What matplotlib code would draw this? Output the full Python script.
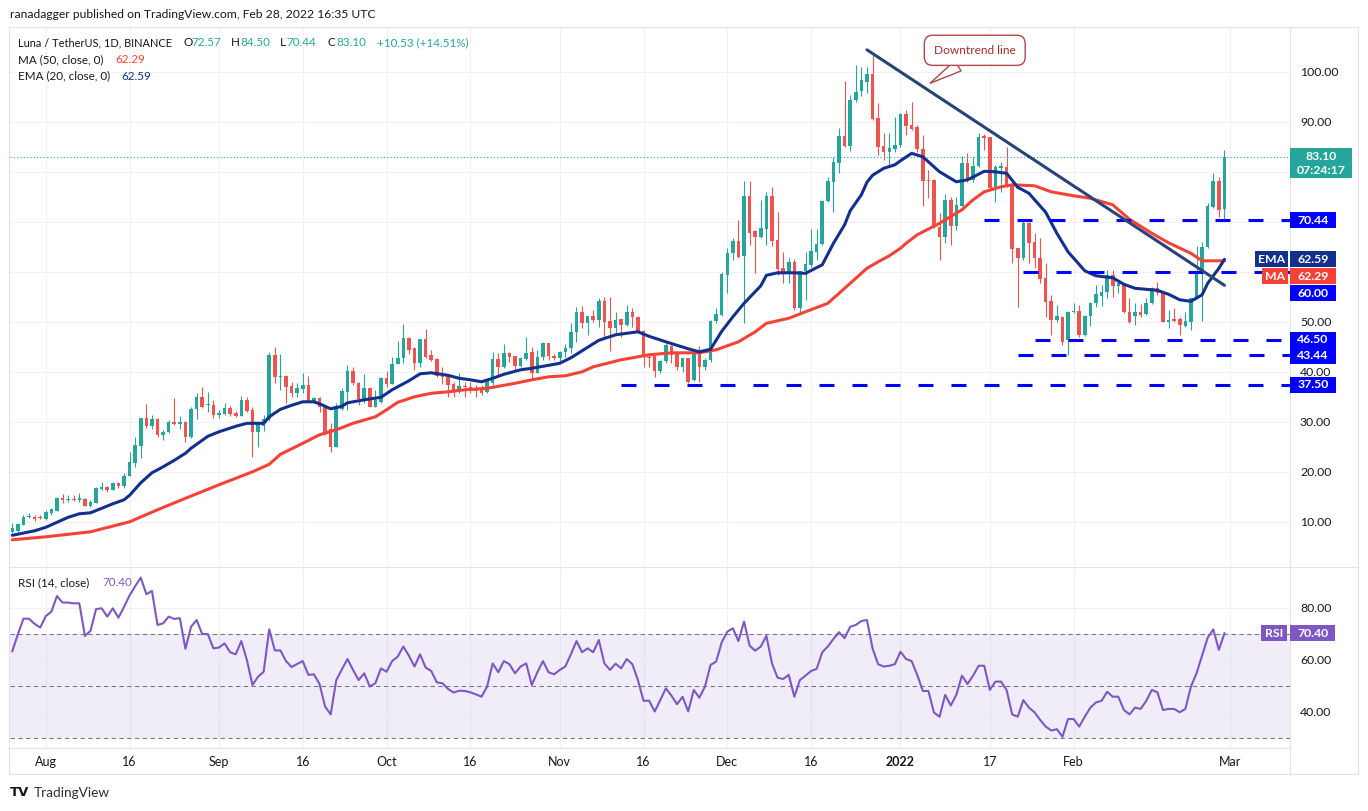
import numpy as np
import pandas as pd
import matplotlib
matplotlib.use('Agg')
import matplotlib.pyplot as plt
from matplotlib.patches import Rectangle
from matplotlib.lines import Line2D

W, H = 1368, 811
FONT = 'Lato'
plt.rcParams['font.family'] = [FONT, 'DejaVu Sans']

START = pd.Timestamp('2021-07-26')

# daily candles, LUNA/USDT, 26 Jul 2021 .. 28 Feb 2022
opens = [
    8.1, 8.3, 9.5, 11.0, 11.1, 11.0, 10.6, 11.9, 12.3, 14.8,
    14.5, 14.7, 14.5, 14.7, 13.3, 13.9, 16.7, 17.1, 16.5, 17.9,
    17.3, 19.3, 21.9, 25.3, 30.9, 29.3, 30.7, 27.4, 28.0, 30.0,
    29.6, 30.1, 27.0, 32.7, 35.1, 33.4, 33.5, 31.5, 31.7, 32.9,
    31.9, 31.3, 34.5, 32.5, 28.0, 29.3, 30.6, 43.5, 39.1, 39.3,
    37.3, 35.8, 36.7, 37.5, 34.3, 34.8, 33.1, 28.6, 25.1, 32.6,
    36.1, 40.3, 37.9, 34.7, 36.9, 33.1, 34.1, 38.9, 37.7, 41.7,
    42.8, 46.9, 44.9, 41.9, 46.6, 43.5, 42.7, 39.3, 39.3, 37.7,
    36.3, 37.3, 37.0, 36.7, 36.5, 36.1, 37.8, 42.6, 41.0, 43.8,
    43.2, 41.3, 42.7, 44.0, 39.9, 43.1, 45.8, 43.3, 42.9, 44.0,
    44.8, 48.0, 52.1, 49.8, 51.3, 50.5, 54.3, 50.3, 48.8, 50.6,
    49.5, 52.1, 51.1, 48.3, 43.1, 43.3, 40.3, 42.3, 45.3, 43.8,
    41.1, 42.8, 38.5, 44.1, 41.1, 42.5, 50.3, 51.5, 59.5, 63.9,
    66.3, 63.3, 75.3, 68.3, 67.0, 68.6, 75.3, 66.5, 60.8, 60.0,
    62.0, 52.9, 60.3, 61.5, 64.1, 65.7, 74.3, 78.1, 81.9, 87.3,
    85.3, 94.5, 96.3, 98.1, 99.7, 90.8, 85.3, 84.1, 84.6, 85.5,
    91.7, 89.5, 89.1, 84.6, 78.5, 78.5, 69.1, 67.0, 74.5, 69.3,
    73.3, 81.9, 78.5, 81.3, 87.3, 87.0, 77.1, 80.8, 81.0, 77.3,
    64.8, 62.8, 69.9, 66.1, 62.8, 58.8, 54.3, 50.5, 51.1, 46.5,
    52.1, 52.3, 47.5, 51.3, 53.9, 55.3, 56.1, 59.5, 57.3, 57.8,
    52.1, 51.3, 52.1, 51.6, 53.8, 56.8, 55.8, 50.1, 50.6, 50.6,
    49.3, 50.1, 54.8, 60.1, 65.1, 73.1, 78.3, 72.57]
highs = [
    9.9, 9.8, 11.4, 11.8, 11.5, 11.5, 12.5, 12.9, 15.1, 15.7,
    15.5, 15.4, 15.8, 14.8, 14.5, 17.1, 18.1, 17.3, 18.0, 18.1,
    19.8, 24.1, 27.1, 30.9, 33.7, 31.5, 30.9, 28.5, 30.5, 34.8,
    31.3, 30.2, 33.1, 35.8, 37.0, 36.0, 34.5, 32.5, 33.8, 33.2,
    32.2, 35.3, 35.1, 33.0, 30.0, 31.5, 44.1, 45.1, 43.7, 39.5,
    38.1, 37.8, 39.8, 39.3, 35.1, 35.1, 33.1, 29.8, 33.8, 36.8,
    41.5, 41.1, 38.1, 39.7, 37.1, 36.5, 39.1, 40.3, 43.1, 46.3,
    49.7, 47.0, 45.0, 46.7, 48.7, 44.5, 42.8, 41.0, 39.5, 38.0,
    39.8, 38.1, 38.1, 37.5, 37.5, 38.6, 44.1, 43.8, 45.6, 44.1,
    43.3, 43.1, 47.0, 45.0, 44.5, 46.1, 45.9, 43.7, 44.3, 45.6,
    49.8, 53.1, 53.3, 51.3, 52.5, 54.8, 55.1, 55.1, 52.1, 50.7,
    53.5, 52.8, 51.2, 48.4, 43.5, 43.4, 42.5, 45.8, 45.5, 43.9,
    42.9, 42.9, 44.1, 45.3, 42.8, 50.5, 52.8, 60.1, 64.8, 66.8,
    70.5, 78.3, 78.3, 68.5, 74.5, 76.1, 77.0, 72.1, 64.1, 62.8,
    62.6, 60.3, 64.1, 68.6, 68.6, 74.5, 79.1, 83.1, 88.9, 98.3,
    95.5, 101.5, 101.1, 101.0, 103.8, 93.8, 87.8, 87.8, 91.0, 91.8,
    92.5, 94.1, 89.5, 87.5, 80.5, 78.6, 71.9, 75.7, 75.1, 75.1,
    83.3, 83.9, 83.1, 87.8, 87.7, 87.0, 81.5, 82.1, 85.0, 77.5,
    64.8, 70.5, 70.0, 67.8, 66.8, 61.8, 55.5, 53.5, 51.2, 52.3,
    53.8, 53.5, 51.5, 54.1, 57.5, 57.5, 60.5, 60.5, 58.1, 57.9,
    54.8, 53.8, 53.6, 54.8, 57.1, 58.1, 55.9, 52.5, 52.8, 51.0,
    52.1, 54.8, 65.3, 66.1, 73.9, 79.8, 79.1, 84.50]
lows = [
    7.9, 8.1, 9.4, 10.8, 10.2, 10.7, 10.5, 11.4, 12.2, 13.8,
    14.0, 14.3, 14.1, 13.2, 13.1, 13.8, 16.5, 16.0, 16.4, 16.9,
    16.8, 19.2, 21.1, 22.8, 28.8, 28.7, 27.1, 26.5, 27.8, 29.4,
    28.6, 26.1, 26.9, 30.6, 32.8, 32.1, 30.8, 30.8, 31.4, 31.3,
    31.1, 31.2, 32.0, 23.1, 25.1, 28.3, 30.3, 37.8, 36.5, 33.8,
    35.1, 35.1, 35.8, 34.1, 34.1, 32.1, 27.5, 24.1, 25.0, 32.5,
    32.5, 37.5, 33.5, 33.8, 33.1, 33.0, 33.8, 37.0, 37.6, 41.6,
    41.8, 43.7, 40.5, 41.0, 42.9, 42.3, 39.1, 37.7, 35.1, 35.1,
    35.8, 35.1, 35.8, 35.1, 35.5, 35.8, 37.5, 39.1, 40.8, 42.0,
    40.3, 41.0, 42.5, 38.6, 39.8, 42.5, 42.5, 42.5, 41.8, 43.0,
    43.8, 46.1, 48.8, 47.5, 50.1, 49.1, 47.1, 44.3, 47.8, 47.1,
    49.3, 49.1, 48.1, 41.1, 41.1, 39.1, 39.8, 41.8, 41.8, 40.5,
    40.0, 37.8, 38.3, 38.1, 40.5, 42.1, 49.8, 51.3, 55.8, 62.5,
    62.8, 49.8, 65.5, 59.9, 66.8, 65.5, 65.3, 59.5, 57.8, 57.8,
    52.5, 51.9, 54.5, 61.0, 62.5, 65.5, 74.1, 72.1, 79.8, 85.1,
    84.3, 94.0, 95.3, 95.9, 90.5, 83.5, 82.5, 81.5, 84.1, 85.1,
    87.5, 88.5, 84.1, 73.3, 74.8, 68.8, 62.5, 65.8, 65.5, 68.5,
    73.3, 78.1, 78.1, 81.0, 84.4, 76.6, 74.1, 76.1, 77.1, 61.8,
    53.1, 62.5, 61.8, 60.8, 57.8, 51.1, 47.5, 50.1, 45.5, 43.5,
    51.8, 47.1, 47.3, 49.3, 53.1, 53.3, 54.8, 55.1, 55.8, 51.9,
    49.9, 49.5, 51.1, 51.5, 53.6, 55.5, 50.1, 48.8, 50.1, 47.5,
    49.1, 48.5, 54.6, 50.3, 64.9, 72.8, 71.1, 70.44]
closes = [
    8.8, 9.6, 11.1, 11.2, 10.7, 10.8, 12.1, 12.6, 14.9, 14.5,
    14.7, 14.5, 14.8, 13.3, 14.1, 16.9, 17.1, 16.5, 17.9, 17.3,
    19.3, 22.1, 25.5, 30.9, 29.3, 30.6, 27.4, 28.0, 30.1, 29.6,
    30.1, 27.0, 32.7, 35.1, 33.1, 33.5, 31.5, 31.9, 32.9, 31.7,
    31.3, 34.5, 32.3, 28.0, 29.8, 30.6, 43.5, 39.1, 39.3, 37.1,
    35.8, 36.8, 37.5, 34.3, 34.8, 33.0, 27.8, 25.1, 33.3, 36.3,
    40.3, 37.8, 34.7, 36.9, 33.1, 34.5, 38.9, 37.7, 41.7, 42.9,
    46.9, 44.5, 41.9, 46.6, 43.1, 42.5, 39.3, 39.1, 37.5, 36.3,
    37.3, 37.0, 36.7, 36.3, 35.8, 38.3, 42.6, 41.0, 43.8, 43.1,
    41.3, 42.9, 43.8, 39.9, 43.1, 45.8, 43.3, 42.8, 44.1, 44.8,
    48.0, 52.1, 49.8, 51.3, 50.5, 54.3, 50.1, 48.8, 50.5, 49.5,
    52.1, 51.0, 48.3, 43.1, 42.8, 40.3, 42.3, 45.5, 43.5, 41.1,
    42.8, 38.0, 44.1, 41.1, 42.5, 50.3, 51.6, 59.7, 63.9, 66.3,
    63.1, 75.3, 67.9, 67.0, 68.8, 75.3, 66.3, 60.7, 60.0, 62.0,
    52.9, 60.3, 61.7, 64.3, 65.7, 74.3, 78.3, 82.1, 87.3, 85.3,
    94.5, 96.0, 98.5, 99.7, 90.7, 85.1, 84.1, 84.9, 85.5, 91.7,
    89.3, 88.7, 84.6, 78.3, 78.3, 69.1, 67.0, 74.5, 69.3, 73.5,
    81.9, 78.5, 81.3, 87.1, 86.8, 76.9, 81.0, 81.3, 77.5, 64.6,
    62.8, 69.9, 65.9, 62.8, 58.6, 54.1, 50.5, 51.3, 46.1, 52.1,
    52.3, 47.5, 51.3, 53.9, 55.7, 56.1, 59.5, 57.3, 57.8, 52.1,
    50.1, 52.1, 51.5, 53.8, 56.8, 55.8, 50.1, 50.5, 50.3, 49.5,
    50.3, 54.8, 60.1, 65.1, 73.3, 78.3, 72.5, 83.10]

rsi = [
    63.5, 70, 76, 76, 74, 72.6, 77, 78.7, 84.7, 82.2,
    82.2, 81.9, 81.9, 69.4, 71.3, 79.7, 80, 76.8, 80, 76.4,
    80.5, 85, 88.5, 91.8, 85.4, 86.7, 73.6, 74.2, 76.8, 75.9,
    76.2, 64.4, 72.9, 75.5, 70.1, 70.1, 64.6, 64.9, 66.5, 63.1,
    62.3, 67.4, 60.1, 50.5, 53.7, 55.6, 71.9, 63.8, 63.8, 59.7,
    57.4, 58.6, 59.7, 54.4, 54.6, 50.9, 42.2, 39.2, 52.4, 56.5,
    60.5, 56.3, 52.4, 55, 49.9, 51.2, 56.9, 55.6, 59.7, 61.4,
    65.3, 61.8, 57.6, 62.3, 57.2, 55.9, 51.5, 51.2, 49, 47.6,
    48.3, 48.2, 47.7, 46.9, 46, 49.9, 58.8, 55.4, 59.7, 58.5,
    55, 57.6, 58.8, 50.5, 55.4, 59.7, 55.4, 54.6, 56.3, 57.6,
    62.3, 67.4, 63.1, 64.6, 63.1, 67.8, 58.8, 56.3, 58.7, 56.9,
    60.5, 58.5, 52.4, 44.4, 44.5, 40.3, 44.7, 49.2, 46.4, 43.1,
    46, 40.3, 48.6, 45.6, 49.9, 58.2, 59.5, 66.9, 71, 72.3,
    67.4, 74.9, 65.6, 63.7, 65.3, 69.4, 58.8, 53.3, 52.8, 54.4,
    46, 52.4, 54.1, 55.9, 56.7, 63.1, 65.3, 68.2, 70.8, 68.5,
    72.9, 73.6, 75.1, 75.5, 64.6, 58.5, 57.6, 57.9, 58.5, 63.3,
    60.5, 59.7, 54.4, 48.2, 48.2, 39.9, 38.3, 46.7, 42.6, 46.7,
    54.1, 50.9, 54.1, 57.9, 57.9, 48.6, 51.8, 51.8, 48.6, 39.2,
    38.3, 44.7, 41.8, 40, 37.1, 34.5, 33, 33.5, 30.6, 37.4,
    37.4, 34.5, 38.3, 41.8, 43.8, 44.4, 47.9, 46, 46, 40.9,
    39.2, 41.8, 41.3, 44.4, 48.6, 47.7, 40.9, 41.3, 41.3, 40,
    41.3, 49.9, 55, 61.8, 68.7, 71.9, 64, 70.4]

# moving averages (day number from START, value)
ema_days = [0, 4, 6, 8, 10, 12, 14, 16, 18, 20, 21, 23, 25, 27, 29, 31, 32, 35,
            37, 40, 42, 43, 45, 46, 48, 50, 52, 54, 55, 57, 59, 60, 63, 66, 68,
            71, 73, 75, 78, 80, 82, 84, 86, 88, 91, 93, 96, 98, 100, 102, 105,
            108, 112, 114, 117, 121, 123, 125, 127, 129, 131, 134, 135, 137,
            140, 142, 145, 147, 149, 150, 152, 153, 154, 155, 156, 158, 159,
            161, 163, 166, 169, 171, 174, 176, 178, 180, 182, 185, 187, 189,
            192, 194, 197, 199, 201, 205, 207, 209, 211, 213, 214, 216, 217]
ema_vals = [7.4, 8.3, 9.0, 10.0, 11.0, 11.7, 11.9, 12.8, 13.7, 14.5, 15.4, 17.9,
            19.9, 21.1, 22.4, 23.8, 24.8, 27.2, 28.1, 29.2, 29.8, 29.8, 29.8,
            31.1, 32.6, 33.4, 34.1, 34.1, 33.7, 32.7, 33.2, 33.9, 34.5, 35.0,
            36.5, 38.3, 39.7, 39.9, 39.4, 38.8, 38.5, 38.1, 38.8, 39.6, 40.5,
            40.8, 41.4, 41.8, 42.9, 44.3, 46.4, 47.5, 48.1, 47.2, 46.1, 44.7,
            44.1, 44.6, 48.2, 51.1, 53.8, 57.3, 59.4, 59.9, 59.9, 59.8, 61.5,
            65.8, 69.5, 72.3, 75.5, 78.0, 79.4, 80.1, 80.8, 81.5, 82.3, 83.8,
            83.1, 80.1, 78.1, 78.5, 80.2, 80.1, 79.8, 77.0, 75.8, 72.0, 67.8,
            64.1, 60.3, 59.3, 58.9, 57.6, 56.8, 56.4, 55.6, 54.5, 54.2, 55.5,
            57.8, 60.8, 62.59]
ma_days = [0, 6, 14, 21, 26, 31, 37, 43, 46, 48, 52, 55, 58, 61, 65, 67, 69, 72,
           75, 78, 81, 85, 90, 93, 96, 99, 102, 104, 109, 114, 118, 123, 126,
           130, 133, 135, 139, 142, 146, 149, 151, 153, 155, 157, 159, 160,
           162, 166, 170, 172, 174, 177, 179, 183, 186, 190, 193, 197, 200,
           204, 207, 211, 213, 216, 217]
ma_vals = [6.5, 7.1, 8.1, 10.1, 12.5, 14.8, 17.5, 20.1, 21.6, 23.6, 25.8, 27.5,
           28.5, 29.8, 31.1, 32.5, 34.0, 35.1, 35.8, 36.1, 36.5, 36.8, 37.8,
           38.5, 39.1, 39.3, 40.1, 41.1, 42.5, 43.5, 43.9, 43.9, 44.5, 46.1,
           48.1, 49.8, 50.8, 52.1, 53.8, 56.8, 58.8, 60.8, 62.1, 63.3, 64.8,
           65.8, 67.5, 69.8, 72.5, 74.5, 76.1, 77.1, 77.5, 77.3, 76.1, 75.3,
           74.8, 73.5, 70.6, 67.8, 65.9, 63.8, 62.3, 62.3, 62.29]

# drawings
levels = [70.44, 60.00, 46.50, 43.44, 37.50]
level_from = [174, 181, 183, 180, 109]
trend_days = [153, 217]
trend_vals = [104.5, 57.4]

tick_dates = ['2021-08-01', '2021-08-16', '2021-09-01', '2021-09-16',
              '2021-10-01', '2021-10-16', '2021-11-01', '2021-11-16',
              '2021-12-01', '2021-12-16', '2022-01-01', '2022-01-17',
              '2022-02-01', '2022-03-01']
tick_labels = ['Aug', '16', 'Sep', '16', 'Oct', '16', 'Nov', '16', 'Dec', '16',
               '2022', '17', 'Feb', 'Mar']
price_ticks = [10, 20, 30, 40, 50, 90, 100]
price_grid = [10, 20, 30, 40, 50, 60, 70, 80, 90, 100]

GREEN, RED = '#26a69a', '#ef5350'
EMA_C, MA_C = '#12308c', '#f44336'
TREND_C = '#294377'
LEVEL_C = '#0000ff'
RSI_C = '#7e57c2'
GRID_C = '#eff1f5'
FRAME_C = '#e0e3eb'
TXT = '#131722'

n = len(closes)
day = np.arange(n)
o, h, l, c = (np.array(a, dtype=float) for a in (opens, highs, lows, closes))
up = c >= o
ticks_x = (pd.to_datetime(tick_dates) - START).days.values


def box(left, top, right, bottom):
    return [left / W, 1 - bottom / H, (right - left) / W, (bottom - top) / H]


def fig_line(x0, y0, x1, y1, color=FRAME_C, lw=0.8):
    fig.add_artist(Line2D([x0 / W, x1 / W], [1 - y0 / H, 1 - y1 / H],
                          transform=fig.transFigure, color=color, lw=lw))


def fig_rect(x0, y0, x1, y1, color):
    fig.add_artist(Rectangle((x0 / W, 1 - y1 / H), (x1 - x0) / W, (y1 - y0) / H,
                             transform=fig.transFigure, color=color, lw=0,
                             zorder=5))


def fig_txt(x, y, s, color=TXT, size=8.8, ha='left', weight='normal', **kw):
    return fig.text(x / W, 1 - y / H, s, color=color, fontsize=size, ha=ha,
                    va='center', fontweight=weight, zorder=6, **kw)


def legend_row(y, parts, size=8.4):
    # parts: (x pixel, text, colour[, size])
    for p in parts:
        x, s, col = p[:3]
        fig_txt(x, y, s, color=col, size=p[3] if len(p) > 3 else size)


def ypix(a, v):
    return H - a.transData.transform((0, v))[1]


PX_DAY = 5.586
X0 = -0.41
X1 = X0 + 1280 / PX_DAY

fig = plt.figure(figsize=(W / 100, H / 100), dpi=100)
fig.patch.set_facecolor('white')
ax = fig.add_axes(box(10, 27, 1290, 566))
rax = fig.add_axes(box(10, 568, 1290, 748))
for a in (ax, rax):
    a.set_xlim(X0, X1)
    a.set_axis_off()
    for t in ticks_x:
        a.axvline(t, color=GRID_C, lw=0.8, zorder=0)
ax.set_ylim(1.26, 109.06)
rax.set_ylim(26.27, 95.5)

for g in price_grid:
    ax.axhline(g, color=GRID_C, lw=0.8, zorder=0)

# candles
cols = np.where(up, GREEN, RED)
ax.vlines(day, l, h, colors=cols, lw=0.8, zorder=2)
ax.bar(day, np.maximum(np.abs(c - o), 0.2), bottom=np.minimum(o, c),
       width=0.64, color=cols, lw=0, zorder=3)

ax.axhline(closes[-1], color=GREEN, lw=0.8, ls=(0, (1, 2)), zorder=2)
ax.plot(ma_days, ma_vals, color=MA_C, lw=2.2, zorder=4,
        solid_capstyle='round', solid_joinstyle='round')
ax.plot(ema_days, ema_vals, color=EMA_C, lw=2.2, zorder=4,
        solid_capstyle='round', solid_joinstyle='round')
for lv, d0 in zip(levels, level_from):
    ax.plot([d0, X1], [lv, lv], color=LEVEL_C, lw=2.2, ls=(0, (4.9, 5.9)),
            zorder=5, clip_on=False)
ax.plot(trend_days, trend_vals, color=TREND_C, lw=2.2, zorder=5,
        solid_capstyle='round')

ax.annotate('Downtrend line', xy=(164.3, 97.8), xytext=(172.3, 104.4),
            color='#a52a2a', fontsize=8.6, ha='center', va='center',
            bbox=dict(boxstyle='round,pad=0.8,rounding_size=0.7', fc='white',
                      ec='#b0474b', lw=1.0),
            arrowprops=dict(arrowstyle='wedge,tail_width=1.0', fc='white',
                            ec='#b0474b', lw=1.0, relpos=(0.5, 0.05),
                            shrinkA=0, shrinkB=0),
            zorder=7)

# RSI panel
rax.axhspan(30, 70, color=RSI_C, alpha=0.1, lw=0, zorder=0)
for g in (40, 60, 80):
    rax.axhline(g, color=GRID_C, lw=0.8, zorder=0)
for g in (70, 50, 30):
    rax.axhline(g, color='#787b86', lw=0.8, ls=(0, (4, 3)), zorder=1)
rax.plot(day, rsi, color=RSI_C, lw=1.5, zorder=3)

# frame
fig_line(9, 27, 1358, 27)
fig_line(9, 27, 9, 774)
fig_line(1358, 27, 1358, 774)
fig_line(9, 774, 1358, 774)
fig_line(9, 567, 1358, 567)
fig_line(9, 748, 1290, 748)
fig_line(1290, 27, 1290, 774)

# price scale
for p in price_ticks:
    fig_txt(1300, ypix(ax, p), f'{p:.2f}')
for r in (80, 60, 40):
    fig_txt(1300, ypix(rax, r), f'{r:.2f}')

tags = [(70.44, 0, LEVEL_C, None), (62.59, 0, EMA_C, 'EMA'),
        (62.29, 15.2, MA_C, 'MA'), (60.00, 21.2, LEVEL_C, None),
        (46.50, 0, LEVEL_C, None), (43.44, 0.8, LEVEL_C, None),
        (37.50, 0, LEVEL_C, None)]
for v, off, col, name in tags:
    yc = ypix(ax, v) + off
    fig_rect(1290, yc - 8, 1336, yc + 8, col)
    fig_txt(1313, yc, f'{v:.2f}', color='white', ha='center', weight='bold')
    if name:
        x0 = 1255 if name == 'EMA' else 1262
        fig_rect(x0, yc - 8, 1288, yc + 8, col)
        fig_txt((x0 + 1288) / 2, yc, name, color='white', ha='center',
                weight='bold')

yc = ypix(ax, closes[-1])
fig_rect(1290, yc - 8.5, 1352, yc + 21.5, GREEN)
fig_txt(1321, yc, f'{closes[-1]:.2f}', color='white', ha='center', weight='bold')
fig_txt(1321, yc + 13.5, '07:24:17', color='white', ha='center', weight='bold')

yc = ypix(rax, rsi[-1])
fig_rect(1261, yc - 8, 1287, yc + 8, RSI_C)
fig_txt(1274, yc, 'RSI', color='white', ha='center', weight='bold')
fig_rect(1290, yc - 8, 1335, yc + 8, RSI_C)
fig_txt(1312.5, yc, f'{rsi[-1]:.2f}', color='white', ha='center', weight='bold')

# time axis
for t, lab in zip(ticks_x, tick_labels):
    xp = rax.transData.transform((t, 0))[0]
    fig_txt(xp, 762, lab, ha='center', size=9,
            weight='bold' if lab == '2022' else 'normal')

# header and legends
fig_txt(10, 14.5, 'ranadagger published on TradingView.com, Feb 28, 2022 16:35 UTC',
        size=8.7)
legend_row(42.5, [(18, 'Luna / TetherUS, 1D, BINANCE', TXT, 7.9),
                  (183, 'O', TXT), (191.5, '72.57', GREEN),
                  (231, 'H', TXT), (240.5, '84.50', GREEN),
                  (279.5, 'L', TXT), (286.5, '70.44', GREEN),
                  (328, 'C', TXT), (336.5, '83.10', GREEN),
                  (377, '+10.53 (+14.51%)', GREEN)])
legend_row(59.3, [(18, 'MA (50, close, 0)', TXT), (115, '62.29', MA_C)])
legend_row(76, [(18, 'EMA (20, close, 0)', TXT), (121.7, '62.59', EMA_C)])
legend_row(583, [(18, 'RSI (14, close)', TXT), (102, f'{rsi[-1]:.2f}', RSI_C)])

fig_txt(10, 793, 'TV', size=9.5, weight='bold', family='DejaVu Sans')
fig_txt(34, 793, 'TradingView', size=9.8, color='#2a2e39')

fig.savefig('out.png', dpi=100, facecolor='white')
